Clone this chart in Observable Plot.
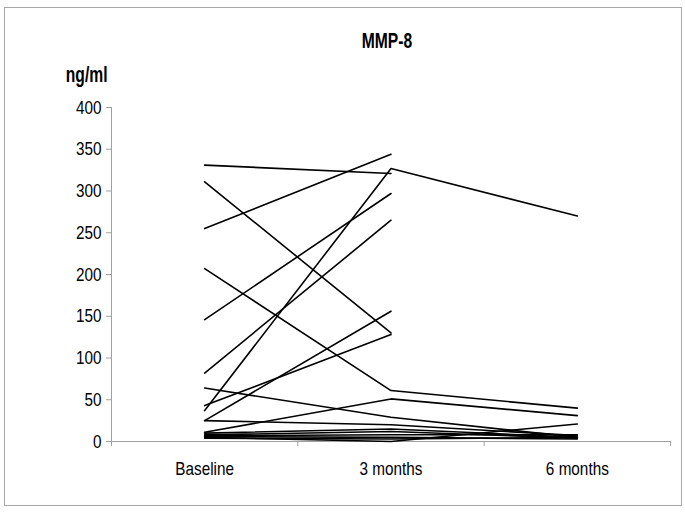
<!DOCTYPE html>
<html>
<head>
<meta charset="utf-8">
<script src="https://cdn.jsdelivr.net/npm/d3@7"></script>
<script src="https://cdn.jsdelivr.net/npm/@observablehq/plot@0.6"></script>
<style>
  html, body { margin: 0; padding: 0; background: #fff; }
  #wrap { position: relative; width: 685px; height: 513px; overflow: hidden; }
  #frame { position: absolute; left: 4px; top: 7px; width: 676px; height: 497px; border: 1px solid #a8a8a8; pointer-events: none; }
  .lbl { position: absolute; font-family: "Liberation Sans Narrow", "Arial Narrow", "Liberation Sans", sans-serif; font-weight: bold; color: #000; white-space: nowrap; transform-origin: center center; }
  #title { left: 0; width: 774px; top: 32px; text-align: center; font-size: 17px; transform: scale(0.92, 1.25); }
  #unit { left: 64px; top: 66px; font-size: 17px; transform: scale(0.92, 1.25); }
</style>
</head>
<body>
<div id="wrap">
  <div id="chart"></div>
  <div id="title" class="lbl">MMP-8</div>
  <div id="unit" class="lbl">ng/ml</div>
  <div id="frame"></div>
</div>
<script>
const categories = ["Baseline", "3 months", "6 months"];
const yTicks = [0, 50, 100, 150, 200, 250, 300, 350, 400];
const baseline = [331, 255, 311, 207, 146, 82, 37, 43, 25, 64, 25, 11, 5, 10, 8, 7, 6, 4];
const month3   = [321, 344, 130, 61, 297, 265, 327, 128, 156, 29, 20, 51, 0, 15, 12, 8, 5, 3];
const month6   = [null, null, null, 40, null, null, 270, null, null, 5, 7, 31, 21, 5, 4, 8, 3, 5];

const series = [baseline, month3, month6];
const rows = [];
baseline.forEach((_, p) => {
  series.forEach((s, t) => {
    rows.push({patient: p, t: t + 0.5, value: s[p]});
  });
});

const font = '"Liberation Sans Narrow", "Arial Narrow", "Liberation Sans", sans-serif';

const chart = Plot.plot({
  width: 685,
  height: 513,
  marginLeft: 111,
  marginRight: 15,
  marginTop: 107,
  marginBottom: 72,
  style: {fontFamily: font, fontSize: "17px", color: "#000", background: "transparent"},
  x: {domain: [0, 3], axis: null},
  y: {domain: [0, 400], axis: null},
  marks: [
    Plot.ruleY([0], {stroke: "#a0a0a0", strokeWidth: 1}),
    Plot.ruleX([0], {y1: 0, y2: 400, stroke: "#a0a0a0", strokeWidth: 1}),
    Plot.axisY({ticks: yTicks, tickSize: 5, tickPadding: 5, stroke: "#a0a0a0", fill: "#000", label: null, fontSize: 17}),
    Plot.axisX({ticks: [0, 1, 2, 3], tickSize: 5, tickFormat: () => "", stroke: "#a0a0a0", label: null}),
    Plot.axisX({ticks: [0.5, 1.5, 2.5], tickSize: 0, tickPadding: 20, tickFormat: (d) => categories[Math.round(d - 0.5)], fill: "#000", label: null, fontSize: 17}),
    Plot.line(rows, {x: "t", y: "value", z: "patient", stroke: "#000", strokeWidth: 1.6, curve: "linear"})
  ]
});
// condense axis text slightly to mimic the narrow original typeface
chart.querySelectorAll("text").forEach((t) => {
  const tr = t.getAttribute("transform") || "";
  t.setAttribute("transform", tr + " scale(0.9,1.12)");
});
document.getElementById("chart").appendChild(chart);
</script>
</body>
</html>
